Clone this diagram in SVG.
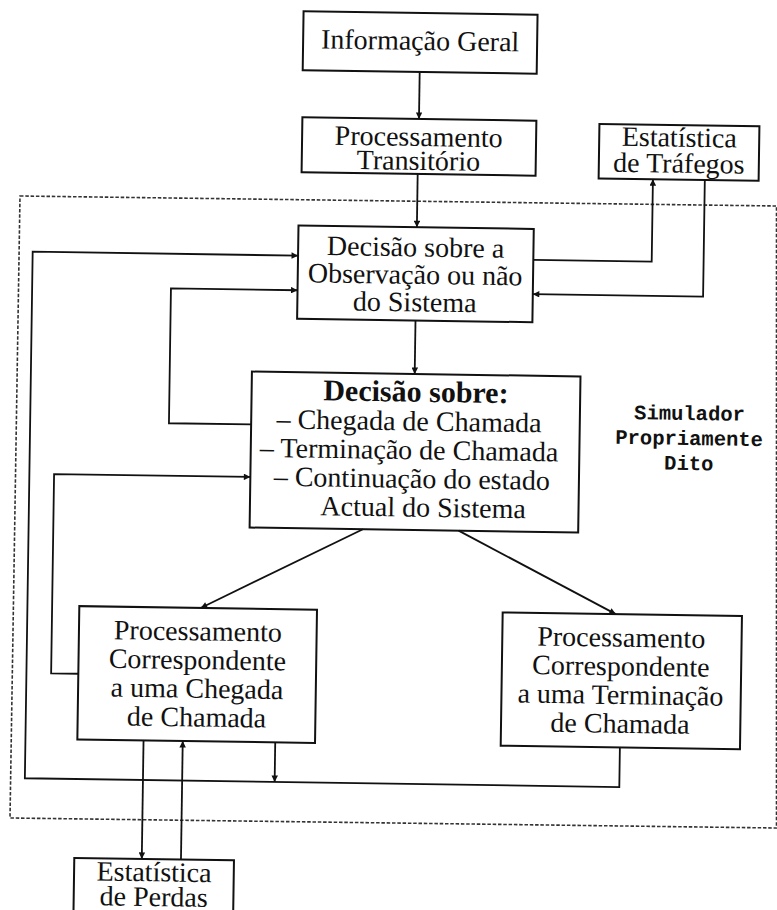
<svg xmlns="http://www.w3.org/2000/svg" width="777" height="910" viewBox="0 0 777 910">
<defs>
<marker id="ah" viewBox="0 0 10 10" refX="10" refY="5" markerWidth="9" markerHeight="6.5" markerUnits="userSpaceOnUse" orient="auto">
<path d="M0,0 L10,5 L0,10 z" fill="#111"/>
</marker>
<style>
.box{fill:none;stroke:#111;stroke-width:2}
.t{font-family:"Liberation Serif","Times New Roman",serif;font-size:28px;fill:#111;text-anchor:middle}
.b{font-weight:bold;font-size:30px}
.m{font-family:"Liberation Mono","Courier New",monospace;font-size:20.5px;font-weight:bold;fill:#111;text-anchor:middle}
.c{fill:none;stroke:#111;stroke-width:1.8;marker-end:url(#ah)}
.dash{fill:none;stroke:#333;stroke-width:1.6;stroke-dasharray:3.5 1.8}
</style>
</defs>
<rect width="777" height="910" fill="#fff"/>
<polygon class="dash" points="20,196 776.5,206 776.5,828 10,818"/>
<g transform="rotate(0.85 388 455)">
<g id="connectors">
<path class="c" d="M414,71.5 V118.5"/>
<path class="c" d="M413.5,173.5 V226.8"/>
<path class="c" d="M530.4,257.8 H648.8 V175.3"/>
<path class="c" d="M700.7,175.3 V292 H530.4"/>
<path class="c" d="M413.5,320.1 V373.6"/>
<path class="c" d="M624.2,743.9 V783.6 H29.7 V257 H295.1"/>
<path class="c" d="M250.7,426.5 H168.5 V291.6 H295.1"/>
<path class="c" d="M364,529.6 L203,610.7"/>
<path class="c" d="M459.7,529.6 L618.1,610.7"/>
<path class="c" d="M81.6,678.3 H54.4 V479 H250.7"/>
<path class="c" d="M279.5,744 V783.6"/>
<path class="c" d="M147.8,744 V862.5"/>
<path class="c" d="M187,862.5 V744"/>
</g>
<g id="n1">
<rect class="box" x="297" y="12.5" width="234" height="59"/>
<text class="t" x="414" y="49.5">Informação Geral</text>
</g>
<g id="n2">
<rect class="box" x="297.4" y="118.5" width="234" height="55"/>
<text class="t" x="414" y="145.5">Processamento</text>
<text class="t" x="414" y="169.5">Transitório</text>
</g>
<g id="n3">
<rect class="box" x="594.5" y="120.8" width="160" height="54.5"/>
<text class="t" x="674.6" y="142.4">Estatística</text>
<text class="t" x="674.6" y="168.4">de Tráfegos</text>
</g>
<g id="n4">
<rect class="box" x="295.1" y="226.8" width="235.3" height="93.3"/>
<text class="t" x="412.5" y="256">Decisão sobre a</text>
<text class="t" x="412.5" y="283.5">Observação ou não</text>
<text class="t" x="412.5" y="311">do Sistema</text>
</g>
<g id="n5">
<rect class="box" x="250.7" y="373.6" width="328.6" height="156"/>
<text class="t b" x="415" y="401.3">Decisão sobre:</text>
<text class="t" x="408.6" y="430">– Chegada de Chamada</text>
<text class="t" x="409.1" y="458.8">– Terminação de Chamada</text>
<text class="t" x="412.2" y="487.5">– Continuação do estado</text>
<text class="t" x="423.9" y="516.2">Actual do Sistema</text>
</g>
<g id="n6">
<rect class="box" x="81.6" y="610.7" width="237.7" height="133.3"/>
<text class="t" x="200.5" y="643.2">Processamento</text>
<text class="t" x="200.5" y="671.9">Correspondente</text>
<text class="t" x="200.5" y="700.6">a uma Chegada</text>
<text class="t" x="200.5" y="729.3">de Chamada</text>
</g>
<g id="n7">
<rect class="box" x="505" y="610.7" width="239.3" height="133.3"/>
<text class="t" x="624" y="643.2">Processamento</text>
<text class="t" x="624" y="671.9">Correspondente</text>
<text class="t" x="624" y="700.6">a uma Terminação</text>
<text class="t" x="624" y="729.3">de Chamada</text>
</g>
<g id="n8">
<rect class="box" x="80.3" y="862.5" width="159.7" height="70"/>
<text class="t" x="160.3" y="884.7">Estatística</text>
<text class="t" x="160.3" y="909.5">de Perdas</text>
</g>
<g id="label">
<text class="m" x="688.9" y="415.5">Simulador</text>
<text class="m" x="688.9" y="440.5">Propriamente</text>
<text class="m" x="688.9" y="465.5">Dito</text>
</g>
</g>
</svg>
